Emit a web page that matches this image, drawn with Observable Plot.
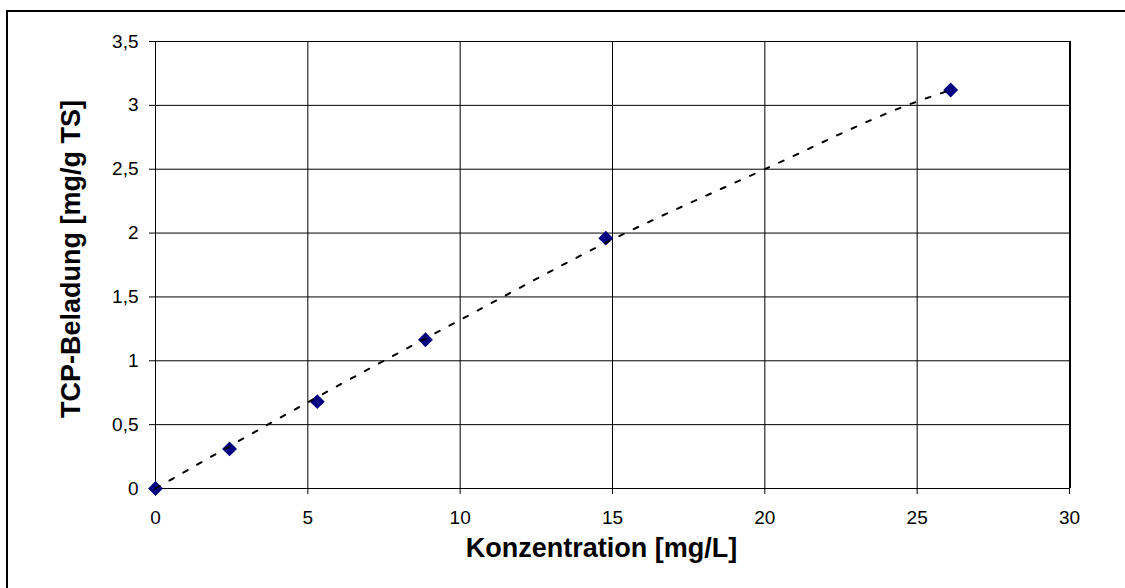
<!DOCTYPE html>
<html><head><meta charset="utf-8">
<script src="https://cdn.jsdelivr.net/npm/d3@7"></script>
<script src="https://cdn.jsdelivr.net/npm/@observablehq/plot@0.6"></script>
<style>
body{margin:0;background:#fff}
#wrap{position:relative;width:1125px;height:588px;overflow:hidden;background:#fff}
#chart{position:absolute;left:0;top:0}
#box{position:absolute;left:6px;top:10px;width:1300px;height:800px;border-left:2px solid #000;border-top:2px solid #000;pointer-events:none}
</style>
</head><body>
<div id="wrap"><div id="chart"></div><div id="box"></div></div>
<script>
const konzentration = [0, 2.43, 5.31, 8.86, 14.78, 26.1];
const beladung = [0, 0.31, 0.68, 1.165, 1.96, 3.12];
const trendX = [0, 5, 10, 15, 20, 25, 26.1];
const trendY = [0, 0.675, 1.32, 1.95, 2.5, 3.03, 3.12];
const xTicks = [0, 5, 10, 15, 20, 25, 30];
const yTicks = [0, 0.5, 1, 1.5, 2, 2.5, 3, 3.5];
const xTitle = "Konzentration [mg/L]";
const yTitle = "TCP-Beladung [mg/g TS]";

const points = konzentration.map((x, i) => ({x, y: beladung[i]}));
const trend = trendX.map((x, i) => ({x, y: trendY[i]}));

const plot = Plot.plot({
  width: 1125, height: 588,
  marginLeft: 155, marginRight: 56, marginTop: 41, marginBottom: 100,
  style: {fontFamily: "'Liberation Sans', Arial, sans-serif", fontSize: "19px", color: "#000", background: "transparent"},
  x: {domain: [0, 30]},
  y: {domain: [0, 3.5]},
  marks: [
    Plot.ruleY(yTicks, {stroke: "#000", strokeWidth: 1}),
    Plot.ruleX(xTicks, {stroke: "#000", strokeWidth: 1}),
    Plot.ruleX([30], {stroke: "#000", strokeWidth: 2, dx: 0.5}),
    Plot.axisX({ticks: xTicks, tickSize: 6, tickPadding: 16, label: null, stroke: "#000", strokeOpacity: 1, fontSize: 19}),
    Plot.axisY({ticks: yTicks, tickSize: 6, tickPadding: 11, label: null, stroke: "#000", strokeOpacity: 1, fontSize: 19,
      tickFormat: d => String(d).replace(".", ",")}),
    Plot.dot(points, {x: "x", y: "y", symbol: "diamond2", r: 6.7, fill: "#000080", stroke: "none"}),
    Plot.line(trend, {x: "x", y: "y", stroke: "#000", strokeWidth: 2, strokeDasharray: "5,11", curve: "monotone-x"}),
    Plot.text([xTitle], {frameAnchor: "bottom", textAnchor: "middle", lineAnchor: "middle", dx: -11, dy: 60, fontSize: 27, fontWeight: "bold", fill: "#000"}),
    Plot.text([yTitle], {frameAnchor: "left", textAnchor: "middle", lineAnchor: "middle", dx: -84, dy: -6, rotate: -90, fontSize: 27, fontWeight: "bold", fill: "#000"})
  ]
});
document.getElementById("chart").appendChild(plot);
</script>
</body></html>
